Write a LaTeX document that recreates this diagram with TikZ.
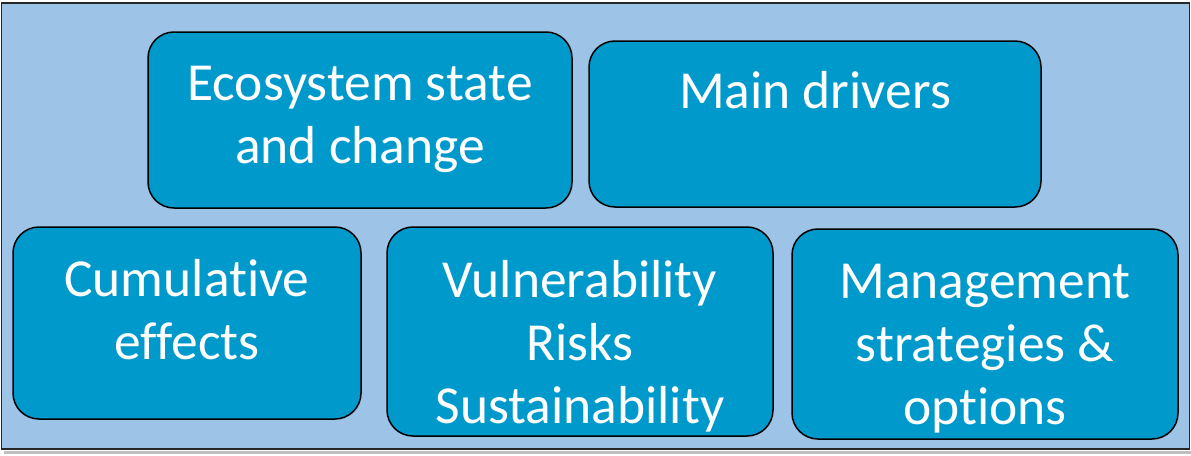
\documentclass[tikz,border=0pt]{standalone}
\usepackage{fontspec}
\setmainfont{Carlito}[Ligatures={NoCommon}]
\definecolor{bgblue}{HTML}{9DC3E6}
\definecolor{boxblue}{HTML}{0099CC}
\tikzset{
  box/.style={draw=black, line width=1.5pt, fill=boxblue, rounded corners=26pt, inner sep=0pt},
  lbl/.style={text=white, inner sep=0pt, anchor=base, font=\fontsize{53.5}{63}\selectfont},
  frame/.style={draw=black!85, line width=1.5pt, fill=bgblue}
}
\newcommand{\lines}[1]{\begin{tabular}[t]{@{}c@{}}#1\end{tabular}}
\begin{document}
\begin{tikzpicture}[x=1pt,y=-1pt]
\useasboundingbox (0,0) rectangle (1191,455);
\fill[white] (0,0) rectangle (1191,455);
\fill[black!25] (4,451) rectangle (1191,454);
\draw[frame] (1.5,3) rectangle (1189.5,449);
% boxes
\node[box, minimum width=424pt, minimum height=176pt] (eco) at (360,120) {};
\node[box, minimum width=452pt, minimum height=166pt] (drv) at (815,124) {};
\node[box, minimum width=348pt, minimum height=192pt] (cum) at (187,323) {};
\node[box, minimum width=386pt, minimum height=209pt] (vul) at (580,331.5) {};
\node[box, minimum width=386pt, minimum height=210pt] (man) at (985,334) {};
% labels
\node[lbl] (ecot) at (eco.center |- 0,100) {\lines{Ecosystem state\\and change}};
\node[lbl] (drvt) at (drv.center |- 0,108) {\lines{Main drivers}};
\node[lbl] (cumt) at (cum.center |- 0,296) {\lines{Cumulative\\effects}};
\node[lbl] (vult) at (vul.center |- 0,297) {\lines{Vulnerability\\Risks\\Sustainability}};
\node[lbl] (mant) at (man.center |- 0,298) {\lines{Management\\strategies \&\\options}};
\end{tikzpicture}
\end{document}
